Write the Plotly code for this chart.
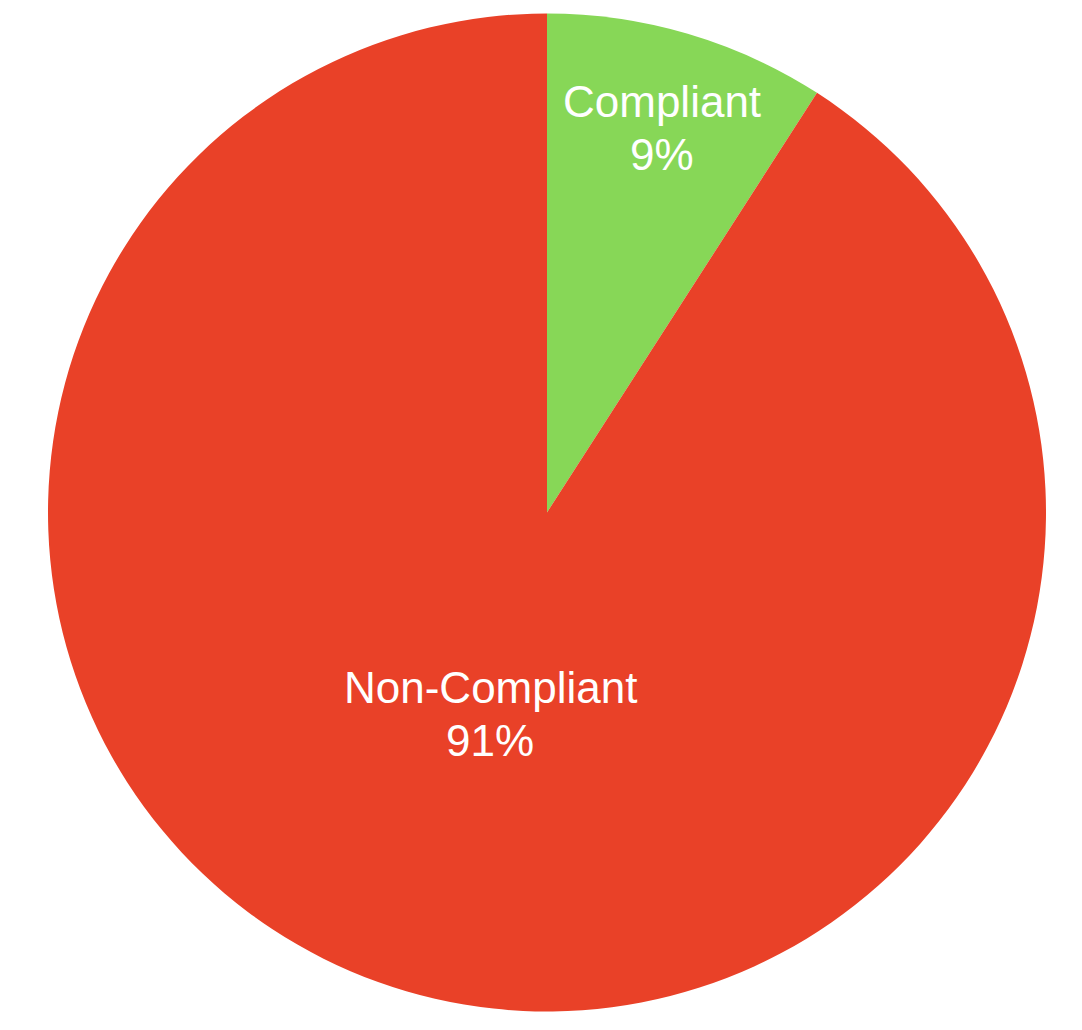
import plotly.graph_objects as go

labels = ["Compliant", "Non-Compliant"]
values = [9.1, 90.9]
colors = ["#87D757", "#E94128"]

# where each slice's caption sits (paper coords: x, y of first line, y of second line)
label_pos = [(0.615, 0.911, 0.858), (0.443, 0.325, 0.272)]

fig = go.Figure(go.Pie(
    labels=labels,
    values=values,
    sort=False,
    direction="clockwise",
    rotation=0,
    marker=dict(colors=colors, line=dict(width=0)),
    textinfo="none",
    hoverinfo="label+percent",
))

total = sum(values)
font = dict(family="Liberation Sans, Arial, sans-serif", size=44, color="white")
for lab, val, (x, y1, y2) in zip(labels, values, label_pos):
    pct = "%d%%" % round(val / total * 100)
    fig.add_annotation(x=x, y=y1, xref="paper", yref="paper", text=lab,
                       showarrow=False, font=font, xanchor="center", yanchor="middle")
    fig.add_annotation(x=x, y=y2, xref="paper", yref="paper", text=pct,
                       showarrow=False, font=font, xanchor="center", yanchor="middle")

# page body adds 8px, so margins are shifted to compensate
fig.update_layout(
    width=1082, height=1030,
    margin=dict(l=40, r=44, t=5, b=26),
    showlegend=False,
    paper_bgcolor="white",
)

fig.write_html("out.html")
